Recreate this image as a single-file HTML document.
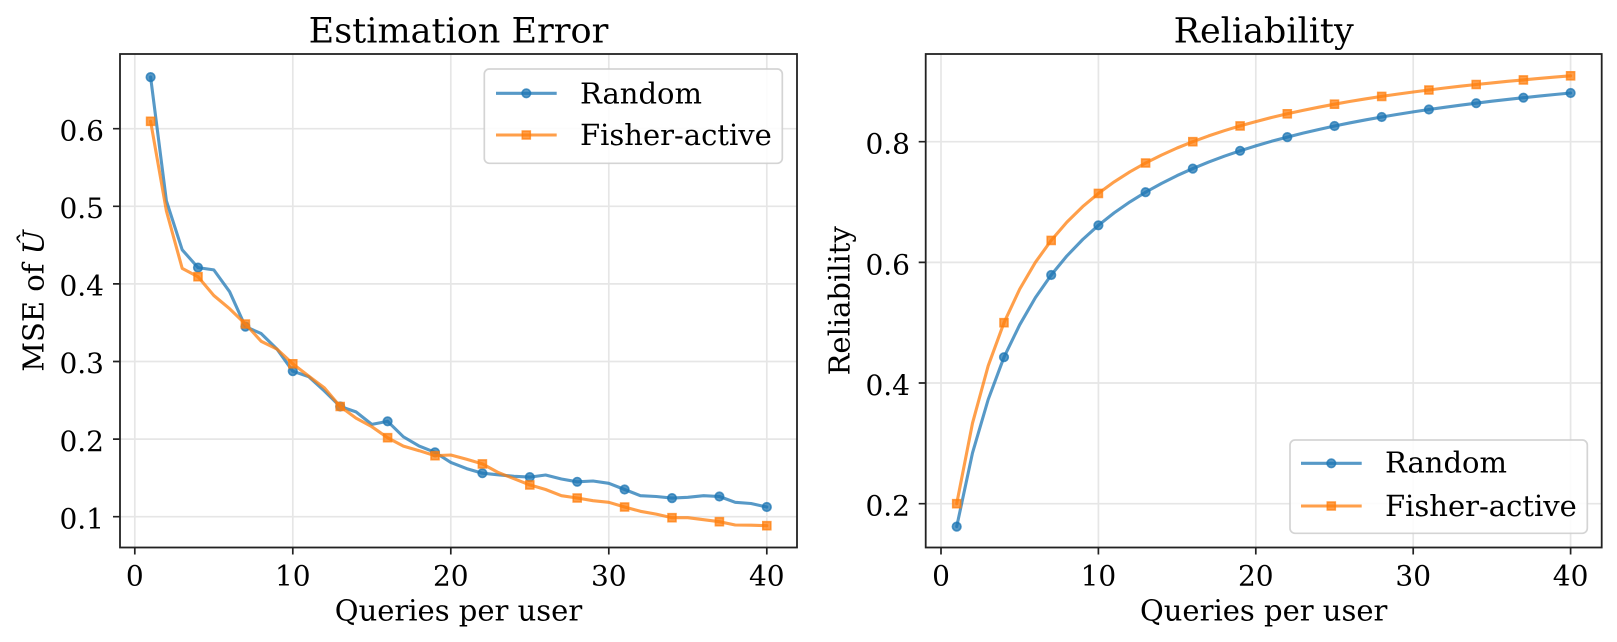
<!DOCTYPE html>
<html><head><meta charset="utf-8"><style>
html,body{margin:0;padding:0;background:#fff;}
svg{display:block;font-family:"DejaVu Serif","Liberation Serif",serif;}
</style></head><body>
<svg width="1617" height="642" viewBox="0 0 1617 642" xmlns="http://www.w3.org/2000/svg">
<rect width="1617" height="642" fill="#fff"/>

<!-- ============ LEFT AXES ============ -->
<g stroke="#e6e6e6" stroke-width="1.7" fill="none">
<path d="M134.8,54V547.5M292.8,54V547.5M450.8,54V547.5M608.8,54V547.5M766.8,54V547.5"/>
<path d="M120,516.7H797M120,439.1H797M120,361.5H797M120,283.9H797M120,206.3H797M120,128.7H797"/>
</g>

<polyline fill="none" stroke="#1f77b4" stroke-opacity="0.75" stroke-width="3.1" stroke-linejoin="round" stroke-linecap="round" points="150.6,77.1 166.4,200.9 182.2,249.8 198.0,267.6 213.8,269.9 229.6,291.7 245.4,326.6 261.2,333.6 277.0,349.1 292.8,371.2 308.6,376.6 324.4,391.0 340.2,406.5 356.0,411.9 371.8,424.4 387.6,421.3 403.4,436.8 419.2,446.1 435.0,452.3 450.8,462.4 466.6,468.6 482.4,473.2 498.2,474.8 514.0,476.3 529.8,477.1 545.6,475.0 561.4,479.0 577.2,481.8 593.0,481.0 608.8,483.3 624.6,489.5 640.4,495.7 656.2,496.5 672.0,498.1 687.8,497.3 703.6,495.7 719.4,496.5 735.2,502.3 751.0,503.5 766.8,507.0"/>
<g fill="#1f77b4" fill-opacity="0.75" stroke="#1f77b4" stroke-opacity="0.75" stroke-width="1.6">
<circle cx="150.6" cy="77.1" r="4.3"/><circle cx="198.0" cy="267.6" r="4.3"/><circle cx="245.4" cy="326.6" r="4.3"/><circle cx="292.8" cy="371.2" r="4.3"/><circle cx="340.2" cy="406.5" r="4.3"/><circle cx="387.6" cy="421.3" r="4.3"/><circle cx="435.0" cy="452.3" r="4.3"/><circle cx="482.4" cy="473.2" r="4.3"/><circle cx="529.8" cy="477.1" r="4.3"/><circle cx="577.2" cy="481.8" r="4.3"/><circle cx="624.6" cy="489.5" r="4.3"/><circle cx="672.0" cy="498.1" r="4.3"/><circle cx="719.4" cy="496.5" r="4.3"/><circle cx="766.8" cy="507.0" r="4.3"/>
</g>

<polyline fill="none" stroke="#ff7f0e" stroke-opacity="0.75" stroke-width="3.1" stroke-linejoin="round" stroke-linecap="round" points="150.6,121.3 166.4,211.0 182.2,268.4 198.0,276.7 213.8,295.5 229.6,308.7 245.4,324.0 261.2,341.3 277.0,349.1 292.8,363.8 308.6,376.0 324.4,387.9 340.2,406.5 356.0,418.1 371.8,426.7 387.6,437.7 403.4,446.1 419.2,450.7 435.0,455.7 450.8,455.0 466.6,459.3 482.4,463.9 498.2,472.5 514.0,478.7 529.8,484.9 545.6,489.5 561.4,495.7 577.2,498.0 593.0,500.7 608.8,502.3 624.6,507.0 640.4,511.3 656.2,514.1 672.0,517.7 687.8,517.7 703.6,519.7 719.4,521.7 735.2,525.0 751.0,525.2 766.8,525.7"/>
<path fill="#ff7f0e" fill-opacity="0.75" stroke="#ff7f0e" stroke-opacity="0.75" stroke-width="1.6" d="M146.6,117.3h8v8h-8z M194,272.7h8v8h-8z M241.4,320h8v8h-8z M288.8,359.8h8v8h-8z M336.2,402.5h8v8h-8z M383.6,433.7h8v8h-8z M431,451.7h8v8h-8z M478.4,459.9h8v8h-8z M525.8,480.9h8v8h-8z M573.2,494h8v8h-8z M620.6,503h8v8h-8z M668,513.7h8v8h-8z M715.4,517.7h8v8h-8z M762.8,521.7h8v8h-8z"/>

<rect x="120" y="54" width="677" height="493.5" fill="none" stroke="#222" stroke-width="1.8"/>
<g stroke="#222" stroke-width="1.7">
<path d="M134.8,547.5v7M292.8,547.5v7M450.8,547.5v7M608.8,547.5v7M766.8,547.5v7"/>
<path d="M120,516.7h-7M120,439.1h-7M120,361.5h-7M120,283.9h-7M120,206.3h-7M120,128.7h-7"/>
</g>
<g font-size="28" fill="#000" text-anchor="middle">
<text x="134.8" y="585.5">0</text><text x="292.8" y="585.5">10</text><text x="450.8" y="585.5">20</text><text x="608.8" y="585.5">30</text><text x="766.8" y="585.5">40</text>
</g>
<g font-size="28" fill="#000" text-anchor="end">
<text x="104" y="528.4">0.1</text><text x="104" y="450.8">0.2</text><text x="104" y="373.2">0.3</text><text x="104" y="295.6">0.4</text><text x="104" y="218">0.5</text><text x="104" y="140.4">0.6</text>
</g>
<text x="458.5" y="620.5" font-size="29" text-anchor="middle">Queries per user</text>
<text x="458.5" y="42.3" font-size="35" text-anchor="middle">Estimation Error</text>
<text transform="translate(43.5,300.8) rotate(-90)" font-size="29" text-anchor="middle">MSE of <tspan font-style="italic">Û</tspan></text>

<!-- left legend -->
<rect x="484.3" y="69" width="298" height="94.3" rx="5" fill="#fff" fill-opacity="0.85" stroke="#cccccc" stroke-opacity="0.85" stroke-width="1.7"/>
<line x1="496" y1="93.3" x2="556.7" y2="93.3" stroke="#1f77b4" stroke-opacity="0.75" stroke-width="3.1"/>
<circle cx="526.3" cy="93.3" r="4.3" fill="#1f77b4" fill-opacity="0.75" stroke="#1f77b4" stroke-opacity="0.75" stroke-width="1.6"/>
<line x1="496" y1="135" x2="556.7" y2="135" stroke="#ff7f0e" stroke-opacity="0.75" stroke-width="3.1"/>
<path d="M522.3,131h8v8h-8z" fill="#ff7f0e" fill-opacity="0.75" stroke="#ff7f0e" stroke-opacity="0.75" stroke-width="1.6"/>
<text x="580" y="103.3" font-size="29">Random</text>
<text x="580" y="145" font-size="29">Fisher-active</text>

<!-- ============ RIGHT AXES ============ -->
<g stroke="#e6e6e6" stroke-width="1.7" fill="none">
<path d="M941,54V547.5M1098.4,54V547.5M1255.8,54V547.5M1413.2,54V547.5M1570.6,54V547.5"/>
<path d="M925.7,503.7H1601.7M925.7,383H1601.7M925.7,262.4H1601.7M925.7,141.7H1601.7"/>
</g>

<polyline fill="none" stroke="#1f77b4" stroke-opacity="0.75" stroke-width="3.1" stroke-linejoin="round" stroke-linecap="round" points="956.7,526.6 972.5,452.9 988.2,399.5 1004.0,357.2 1019.7,324.8 1035.4,297.6 1051.2,275.0 1066.9,255.9 1082.7,239.5 1098.4,225.3 1114.1,212.9 1129.9,201.9 1145.6,192.2 1161.4,183.5 1177.1,175.6 1192.8,168.6 1208.6,162.1 1224.3,156.2 1240.1,150.8 1255.8,145.9 1271.5,141.3 1287.3,137.1 1303.0,133.1 1318.8,129.5 1334.5,126.0 1350.2,122.8 1366.0,119.8 1381.7,117.0 1397.5,114.4 1413.2,111.9 1428.9,109.5 1444.7,107.3 1460.4,105.2 1476.2,103.2 1491.9,101.2 1507.6,99.4 1523.4,97.7 1539.1,96.1 1554.9,94.5 1570.6,93.0"/>
<g fill="#1f77b4" fill-opacity="0.75" stroke="#1f77b4" stroke-opacity="0.75" stroke-width="1.6">
<circle cx="956.7" cy="526.6" r="4.3"/><circle cx="1004.0" cy="357.2" r="4.3"/><circle cx="1051.2" cy="275.0" r="4.3"/><circle cx="1098.4" cy="225.3" r="4.3"/><circle cx="1145.6" cy="192.2" r="4.3"/><circle cx="1192.8" cy="168.6" r="4.3"/><circle cx="1240.1" cy="150.8" r="4.3"/><circle cx="1287.3" cy="137.1" r="4.3"/><circle cx="1334.5" cy="126.0" r="4.3"/><circle cx="1381.7" cy="117.0" r="4.3"/><circle cx="1428.9" cy="109.5" r="4.3"/><circle cx="1476.2" cy="103.2" r="4.3"/><circle cx="1523.4" cy="97.7" r="4.3"/><circle cx="1570.6" cy="93.0" r="4.3"/>
</g>

<polyline fill="none" stroke="#ff7f0e" stroke-opacity="0.75" stroke-width="3.1" stroke-linejoin="round" stroke-linecap="round" points="956.7,503.7 972.5,423.2 988.2,365.8 1004.0,322.7 1019.7,289.1 1035.4,262.3 1051.2,240.4 1066.9,222.1 1082.7,206.6 1098.4,193.4 1114.1,181.9 1129.9,171.8 1145.6,163.0 1161.4,155.1 1177.1,148.0 1192.8,141.7 1208.6,135.9 1224.3,130.7 1240.1,125.9 1255.8,121.6 1271.5,117.5 1287.3,113.8 1303.0,110.4 1318.8,107.2 1334.5,104.2 1350.2,101.4 1366.0,98.8 1381.7,96.4 1397.5,94.1 1413.2,92.0 1428.9,90.0 1444.7,88.0 1460.4,86.2 1476.2,84.5 1491.9,82.9 1507.6,81.3 1523.4,79.9 1539.1,78.4 1554.9,77.1 1570.6,75.8"/>
<path fill="#ff7f0e" fill-opacity="0.75" stroke="#ff7f0e" stroke-opacity="0.75" stroke-width="1.6" d="M952.7,499.7h8v8h-8z M1000,318.7h8v8h-8z M1047.2,236.4h8v8h-8z M1094.4,189.4h8v8h-8z M1141.6,159h8v8h-8z M1188.8,137.7h8v8h-8z M1236.1,121.9h8v8h-8z M1283.3,109.8h8v8h-8z M1330.5,100.2h8v8h-8z M1377.7,92.4h8v8h-8z M1424.9,86h8v8h-8z M1472.2,80.5h8v8h-8z M1519.4,75.9h8v8h-8z M1566.6,71.8h8v8h-8z"/>

<rect x="925.7" y="54" width="676" height="493.5" fill="none" stroke="#222" stroke-width="1.8"/>
<g stroke="#222" stroke-width="1.7">
<path d="M941,547.5v7M1098.4,547.5v7M1255.8,547.5v7M1413.2,547.5v7M1570.6,547.5v7"/>
<path d="M925.7,503.7h-7M925.7,383h-7M925.7,262.4h-7M925.7,141.7h-7"/>
</g>
<g font-size="28" fill="#000" text-anchor="middle">
<text x="941" y="585.5">0</text><text x="1098.4" y="585.5">10</text><text x="1255.8" y="585.5">20</text><text x="1413.2" y="585.5">30</text><text x="1570.6" y="585.5">40</text>
</g>
<g font-size="28" fill="#000" text-anchor="end">
<text x="910" y="515.6">0.2</text><text x="910" y="394.9">0.4</text><text x="910" y="274.3">0.6</text><text x="910" y="153.6">0.8</text>
</g>
<text x="1263.7" y="620.5" font-size="29" text-anchor="middle">Queries per user</text>
<text x="1263.7" y="42.3" font-size="35" text-anchor="middle">Reliability</text>
<text transform="translate(849.5,300.8) rotate(-90)" font-size="29" text-anchor="middle">Reliability</text>

<!-- right legend -->
<rect x="1290" y="440" width="297.3" height="93.3" rx="5" fill="#fff" fill-opacity="0.85" stroke="#cccccc" stroke-opacity="0.85" stroke-width="1.7"/>
<line x1="1301" y1="463.3" x2="1361.7" y2="463.3" stroke="#1f77b4" stroke-opacity="0.75" stroke-width="3.1"/>
<circle cx="1331.3" cy="463.3" r="4.3" fill="#1f77b4" fill-opacity="0.75" stroke="#1f77b4" stroke-opacity="0.75" stroke-width="1.6"/>
<line x1="1301" y1="506" x2="1361.7" y2="506" stroke="#ff7f0e" stroke-opacity="0.75" stroke-width="3.1"/>
<path d="M1327.3,502h8v8h-8z" fill="#ff7f0e" fill-opacity="0.75" stroke="#ff7f0e" stroke-opacity="0.75" stroke-width="1.6"/>
<text x="1385" y="472.7" font-size="29">Random</text>
<text x="1385" y="516" font-size="29">Fisher-active</text>
</svg>
</body></html>
